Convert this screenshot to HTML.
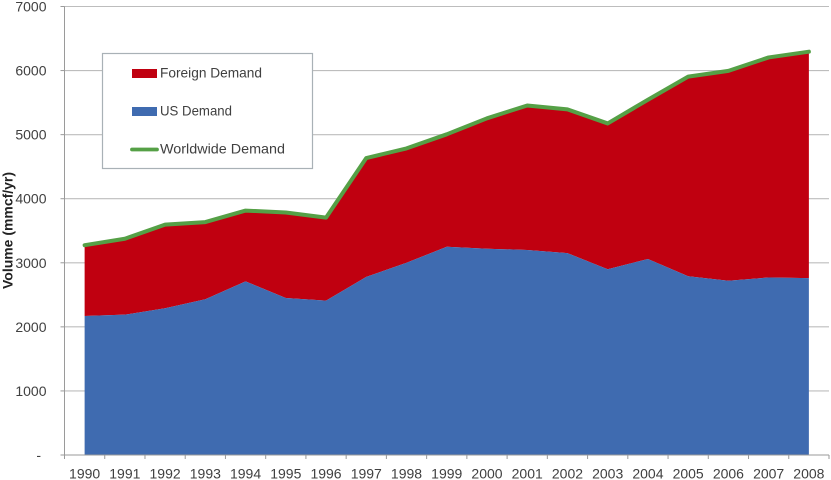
<!DOCTYPE html>
<html lang="en">
<head>
<meta charset="utf-8">
<title>Demand chart</title>
<style>
html,body{margin:0;padding:0;background:#fff;width:831px;height:480px;overflow:hidden}
svg{display:block;font-family:"Liberation Sans",sans-serif;filter:blur(0.35px)}
</style>
</head>
<body>
<svg id="chart" width="831" height="480" viewBox="0 0 831 480" xmlns="http://www.w3.org/2000/svg">
  <rect x="0" y="0" width="831" height="480" fill="#ffffff"/>
  <g id="grid"></g>
  <g id="areas"></g>
  <g id="axes"></g>
  <g id="labels"></g>
  <text transform="translate(12.5,289) rotate(-90)" text-anchor="start" font-size="14" font-weight="bold" fill="#222" textLength="117" lengthAdjust="spacingAndGlyphs">Volume (mmcf/yr)</text>
  <g>
    <rect x="102.5" y="53.5" width="210" height="115" fill="#fff" stroke="#a9b1b6" stroke-width="1.2"/>
    <rect x="132" y="69" width="25" height="9" fill="#c00010"/>
    <text x="160" y="77.5" font-size="14" fill="#404040" textLength="102" lengthAdjust="spacingAndGlyphs">Foreign Demand</text>
    <rect x="132" y="107" width="25" height="9" fill="#3f6bb0"/>
    <text x="160" y="115.5" font-size="14" fill="#404040" textLength="72" lengthAdjust="spacingAndGlyphs">US Demand</text>
    <line x1="132" y1="149.5" x2="157" y2="149.5" stroke="#55a046" stroke-width="3.8" stroke-linecap="round"/>
    <text x="160" y="153.5" font-size="14" fill="#404040" textLength="125" lengthAdjust="spacingAndGlyphs">Worldwide Demand</text>
  </g>
</svg>
<script>
const years = ['1990','1991','1992','1993','1994','1995','1996','1997','1998','1999','2000','2001','2002','2003','2004','2005','2006','2007','2008'];
const usDemand = [2170,2190,2290,2430,2710,2450,2410,2780,3000,3250,3220,3200,3150,2900,3060,2790,2720,2770,2760];
const foreignDemand = [1100,1180,1300,1200,1100,1330,1290,1850,1780,1750,2030,2250,2240,2270,2480,3110,3270,3430,3530];
const worldwideDemand = [3275,3375,3595,3635,3815,3785,3705,4635,4785,5005,5255,5455,5395,5175,5545,5905,5995,6205,6295];
const yTicks = [0,1000,2000,3000,4000,5000,6000,7000];
const yTickLabels = ['-','1000','2000','3000','4000','5000','6000','7000'];

const NS = 'http://www.w3.org/2000/svg';
const plotLeft = 64.5, plotRight = 829, plotTop = 6.5, plotBottom = 455;
const yMax = 7000;
function xBand(){ return (plotRight - plotLeft) / years.length; }
function xScale(i){ return plotLeft + xBand() * (i + 0.5); }
function yScale(v){ return plotBottom - (v / yMax) * (plotBottom - plotTop); }
function make(tag, attrs, parent){
  const el = document.createElementNS(NS, tag);
  for (const k in attrs) el.setAttribute(k, attrs[k]);
  parent.appendChild(el);
  return el;
}
const gridG = document.getElementById('grid');
const areasG = document.getElementById('areas');
const axesG = document.getElementById('axes');
const labelsG = document.getElementById('labels');

yTicks.forEach(function(t, i){
  const y = yScale(t);
  if (t > 0) {
    const g = make('line', {x1: plotLeft, x2: plotRight, y1: y, y2: y, stroke: '#bdbdbd', 'stroke-width': 1.1}, gridG);
    
    
  }
  const tick = make('line', {x1: plotLeft - 4, x2: plotLeft, y1: y, y2: y, stroke: '#9a9a9a', 'stroke-width': 1}, axesG);
  
  
  const lab = make('text', {x: t === 0 ? 41 : 46.5, y: y + 5, 'text-anchor': 'end', 'font-size': 14, fill: '#404040'}, labelsG);
  
  
  lab.textContent = yTickLabels[i];
});

function areaPath(lower, upper){
  let d = '';
  upper.forEach(function(v, i){ d += (i ? 'L' : 'M') + xScale(i).toFixed(2) + ' ' + yScale(v).toFixed(2); });
  for (let i = lower.length - 1; i >= 0; i--) d += 'L' + xScale(i).toFixed(2) + ' ' + yScale(lower[i]).toFixed(2);
  return d + 'Z';
}
const stackedTop = usDemand.map(function(v, i){ return v + foreignDemand[i]; });
const baseline = usDemand.map(function(){ return 0; });

const foreignArea = make('path', {d: areaPath(usDemand, stackedTop), fill: '#c00010'}, areasG);



const usArea = make('path', {d: areaPath(baseline, usDemand), fill: '#3f6bb0'}, areasG);



const worldLine = make('polyline', {
  points: worldwideDemand.map(function(v, i){ return xScale(i).toFixed(2) + ',' + yScale(v).toFixed(2); }).join(' '),
  fill: 'none', stroke: '#55a046', 'stroke-width': 4, 'stroke-linejoin': 'round', 'stroke-linecap': 'round'
}, areasG);



const yAxis = make('line', {x1: plotLeft, x2: plotLeft, y1: plotTop, y2: plotBottom, stroke: '#9a9a9a', 'stroke-width': 1}, axesG);


const xAxis = make('line', {x1: plotLeft, x2: plotRight, y1: plotBottom, y2: plotBottom, stroke: '#9a9a9a', 'stroke-width': 1}, axesG);



for (let i = 0; i <= years.length; i++) {
  const x = plotLeft + xBand() * i;
  const tick = make('line', {x1: x, x2: x, y1: plotBottom, y2: plotBottom + 4, stroke: '#9a9a9a', 'stroke-width': 1}, axesG);
  
  
}
years.forEach(function(label, i){
  const t = make('text', {x: xScale(i), y: 478.5, 'text-anchor': 'middle', 'font-size': 14, fill: '#404040'}, labelsG);
  
  
  t.textContent = label;
});
</script>
</body>
</html>
